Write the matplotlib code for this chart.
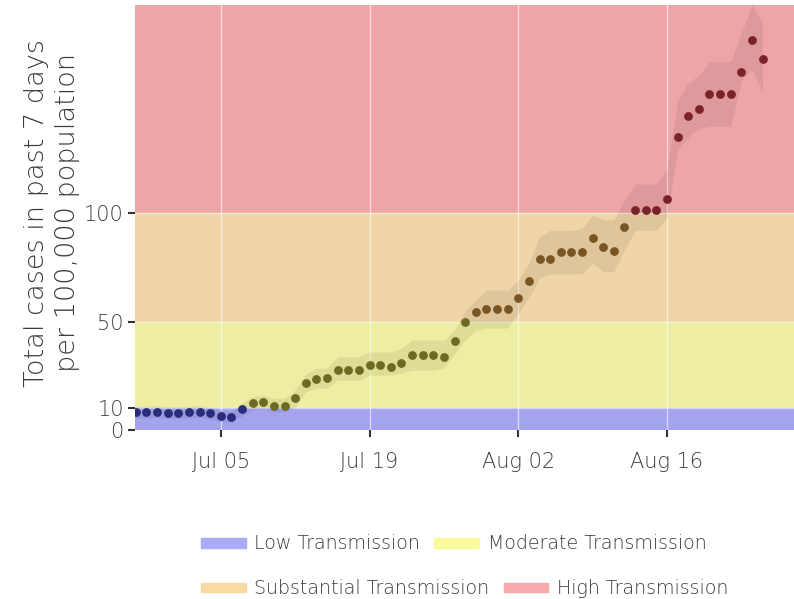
import numpy as np
import pandas as pd
import matplotlib
matplotlib.use('Agg')
import matplotlib.pyplot as plt
import matplotlib.dates as mdates
from matplotlib.patches import Patch

# daily values, Jun 27 .. Aug 25
start = '2021-06-27'
cases = [8.2, 8.2, 8.4, 8.0, 8.0, 8.3, 8.4, 7.7, 6.6, 5.9,
         9.5, 12.3, 13.0, 11.2, 11.2, 14.6, 21.8, 23.5, 23.8, 27.8,
         27.8, 27.7, 29.8, 29.8, 28.9, 30.8, 34.8, 34.8, 34.8, 33.9,
         41.0, 49.8, 54.4, 55.8, 55.8, 55.8, 61.0, 68.7, 78.8, 78.8,
         82.2, 82.2, 82.2, 88.3, 84.5, 82.6, 93.4, 101.2, 101.2, 101.2,
         106.5, 135.2, 144.6, 148.1, 155.0, 155.0, 155.0, 164.8, 180.0, 170.8]
lower = [5.5, 5.5, 5.7, 5.3, 5.3, 5.6, 5.7, 5.0, 4.0, 3.5,
         6.5, 9.2, 9.8, 8.4, 8.4, 10.7, 17.6, 19.3, 19.3, 23.0,
         23.0, 23.0, 25.3, 25.3, 25.3, 26.2, 27.6, 27.6, 27.6, 28.5,
         35.0, 41.5, 46.0, 47.0, 47.0, 47.0, 54.0, 61.0, 70.0, 72.0,
         72.0, 72.0, 72.0, 77.0, 73.0, 73.0, 83.0, 92.0, 92.0, 92.0,
         98.0, 129.0, 135.0, 139.0, 140.0, 140.0, 140.0, 161.0, 166.0, 156.0]
upper = [11.0, 11.0, 11.2, 10.8, 10.8, 11.0, 11.2, 10.5, 9.2, 8.8,
         12.5, 15.4, 16.0, 14.6, 14.6, 18.5, 26.0, 28.5, 28.5, 33.8,
         33.8, 33.8, 36.0, 36.0, 36.0, 37.7, 41.5, 41.5, 41.5, 41.5,
         46.0, 55.0, 60.0, 64.5, 64.5, 64.5, 69.0, 77.0, 89.0, 92.0,
         92.0, 92.0, 93.0, 99.0, 97.0, 97.0, 106.0, 113.4, 113.4, 113.4,
         119.8, 152.0, 160.0, 163.6, 169.7, 169.7, 169.7, 183.0, 196.0, 187.5]

levels = ['Low Transmission', 'Moderate Transmission',
          'Substantial Transmission', 'High Transmission']
bounds = [0, 10, 50, 100, 196]
band_colors = ['#a4a4ee', '#eeeea3', '#efd5a7', '#efa5a8']
legend_colors = ['#aaaaf8', '#fafa9c', '#fbd9a3', '#f7a9ab']
dot_colors = ['#2b2b7c', '#6b6b22', '#7a5524', '#7a2228']
yticks = [0, 10, 50, 100]
xticks = ['2021-07-05', '2021-07-19', '2021-08-02', '2021-08-16']

dates = pd.date_range(start, periods=len(cases), freq='D')
cases = np.array(cases)

plt.rcParams['font.family'] = ['DejaVu Sans']
plt.rcParams['font.weight'] = 'light'
txt = '#3c3c3c'

fig = plt.figure(figsize=(7.94, 5.99), dpi=100)
ax = fig.add_axes([0.170, 0.282, 0.830, 0.710])

for i in range(4):
    ax.axhspan(bounds[i], bounds[i + 1], color=band_colors[i], lw=0, zorder=0)

for d in pd.to_datetime(xticks):
    ax.axvline(d, color='white', lw=1, alpha=0.6, zorder=1)
for y in yticks[1:]:
    ax.axhline(y, color='white', lw=1, alpha=0.5, zorder=1)

ax.fill_between(dates, lower, upper, color='black', alpha=0.07, lw=0, zorder=2)

cls = np.digitize(cases, bounds[1:4])
for i in range(4):
    m = cls == i
    ax.scatter(dates[m], cases[m], s=40, color=dot_colors[i], lw=0, zorder=3)

ax.set_xlim(pd.Timestamp('2021-06-26 22:00'), pd.Timestamp('2021-08-27 23:00'))
ax.set_ylim(0, 196)
ax.set_xticks(pd.to_datetime(xticks))
ax.xaxis.set_major_formatter(mdates.DateFormatter('%b %d'))
ax.set_yticks(yticks)
for s in ax.spines.values():
    s.set_visible(False)
ax.tick_params(axis='both', colors='#333333', labelcolor=txt, labelsize=15,
               length=5, width=1.5)
ax.tick_params(axis='x', pad=11)
ax.tick_params(axis='y', pad=3)

fig.text(0.066, 0.645, 'Total cases in past 7 days\nper 100,000 population',
         rotation=90, ha='center', va='center', fontsize=19.5, color=txt,
         linespacing=1.3)

row1 = [Patch(color=legend_colors[0], label=levels[0]),
        Patch(color=legend_colors[1], label=levels[1])]
row2 = [Patch(color=legend_colors[2], label=levels[2]),
        Patch(color=legend_colors[3], label=levels[3])]
for handles, ymid in [(row1, 0.092), (row2, 0.017)]:
    leg = fig.legend(handles=handles, ncol=2, loc='center left',
                     bbox_to_anchor=(0.253, ymid), frameon=False, fontsize=13.7,
                     handlelength=2.35, handleheight=0.42, columnspacing=0.75,
                     handletextpad=0.45, borderaxespad=0, borderpad=0)
    for t in leg.get_texts():
        t.set_color(txt)

fig.savefig('out.png', dpi=100, facecolor='white')
